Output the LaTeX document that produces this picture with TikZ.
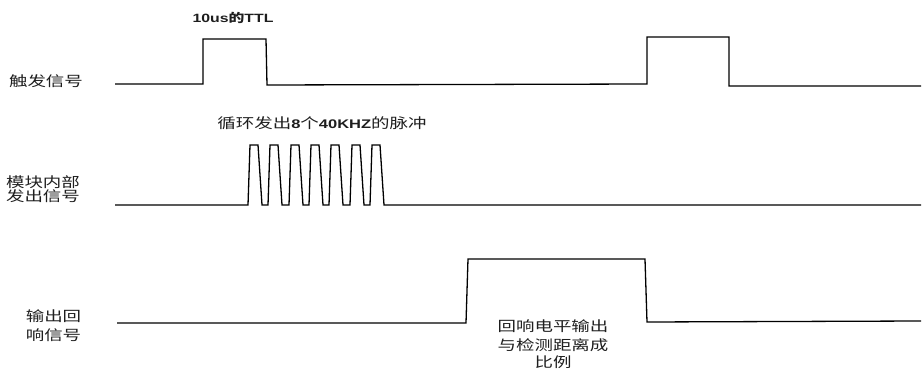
\documentclass[tikz,border=0pt]{standalone}
\usepackage{fontspec}
\setmainfont{Liberation Sans}
\newfontfamily\cjk{Noto Sans CJK SC}
\definecolor{txt}{HTML}{1E1E1E}
\begin{document}
\begin{tikzpicture}[x=1pt,y=-1pt,
  wave/.style={line width=1.3pt,black,line join=miter},
  lbl/.style={inner sep=0pt,xscale=1.32,text=txt,font=\cjk\fontsize{14}{16}\selectfont},
  blbl/.style={inner sep=0pt,xscale=1.32,text=txt,font=\bfseries\fontsize{12}{14}\selectfont}]
\useasboundingbox (0,0) rectangle (922,369);
% trigger signal
\draw[wave] (115,84) -- (203,84) -- (203,39) -- (266,39) -- (267,85) -- (647,84)
  -- (647,37) -- (729,37) -- (729,86) -- (921,86);
% internal burst
\draw[wave] (115,205)
  \foreach \x in {250,270,291,311,331,352,372} { -- (\x-2,205) -- (\x,145) -- (\x+8,145) -- (\x+12,205) }
  -- (921,205);
% echo output
\draw[wave] (117,323) -- (466,323) -- (468,259) -- (645,259) -- (647,322) -- (921,321);
% labels
\node[lbl] (t1) at (46,81) {触发信号};
\node[blbl] (ttl) at (233,18) {10us{\cjk\bfseries 的}TTL};
\node[lbl] (burst) at (322,123) {循环发出{\rmfamily\bfseries\fontsize{12.5}{14}\selectfont 8}个{\rmfamily\bfseries\fontsize{12.5}{14}\selectfont 40KHZ}的脉冲};
\node[lbl] (m1) at (43,182) {模块内部};
\node[lbl] (m2) at (43,196) {发出信号};
\node[lbl] (o1) at (53.5,316) {输出回};
\node[lbl] (o2) at (53.5,335) {响信号};
\node[lbl] (e1) at (553,326) {回响电平输出};
\node[lbl] (e2) at (553,345) {与检测距离成};
\node[lbl] (e3) at (553,362) {比例};
\end{tikzpicture}
\end{document}
